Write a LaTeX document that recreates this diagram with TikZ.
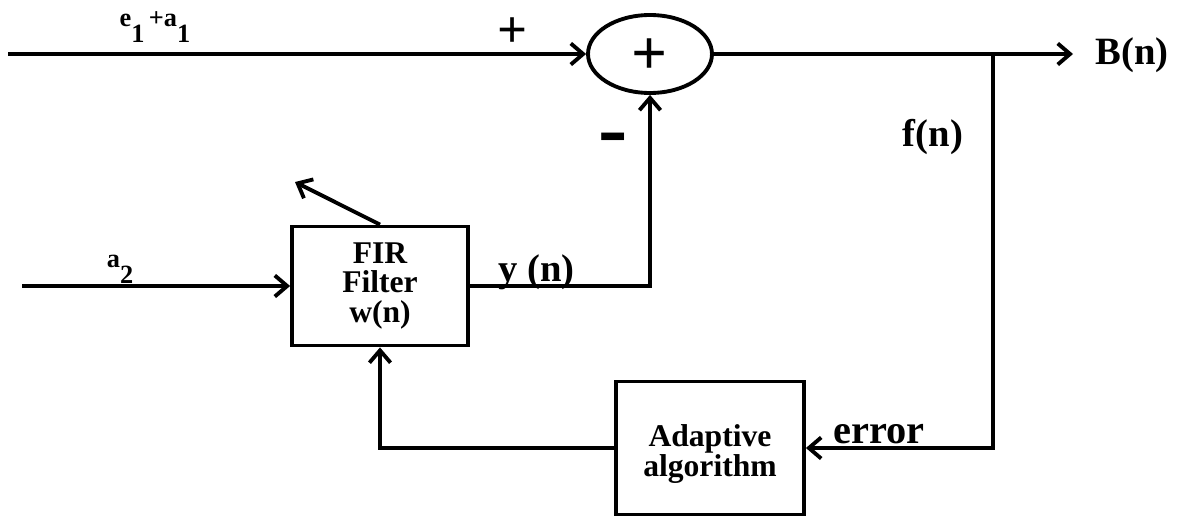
\documentclass[tikz,border=0pt]{standalone}
\usepackage{fontspec}
\setmainfont{Liberation Serif}
\usepackage{tikz}
\usetikzlibrary{positioning, shapes.geometric, arrows.meta}

\begin{document}
\begin{tikzpicture}[x=0.02cm, y=-0.02cm,
    sig/.style={line width=2.2pt, -{Straight Barb[length=7pt, width=12pt, line width=2.2pt]}},
    block/.style={draw, line width=2.2pt, rectangle, align=center, inner sep=0pt, font=\bfseries\fontsize{18}{17}\selectfont},
    sumnode/.style={draw, line width=2.2pt, ellipse, inner sep=0pt, minimum width=2.48cm, minimum height=1.56cm, font=\bfseries\fontsize{36}{36}\selectfont},
    lbl/.style={font=\bfseries\fontsize{22}{24}\selectfont, inner sep=0pt},
    small/.style={font=\bfseries\fontsize{15}{17}\selectfont, inner sep=0pt}]
    \useasboundingbox (0,0) rectangle (1180,517);

    % blocks
    \node (sum) [sumnode] at (650,54) {\smash{\raisebox{-0.32em}{+}}};
    \node (fir) [block, minimum width=3.52cm, minimum height=2.38cm] at (380,286) {FIR\\Filter\\w(n)};
    \node (adapt) [block, minimum width=3.76cm, minimum height=2.66cm] at (710,448) {\rule{0pt}{19pt}Adaptive\\algorithm};

    % free ends
    \coordinate (in1) at (8,54);
    \coordinate (in2) at (22,286);
    \coordinate (out) at (1073,54);
    \coordinate (tap) at (993,54);
    \coordinate (tune) at (295,182);

    % connectors
    \draw [sig] (in1) -- (sum.west);
    \draw [sig] (in2) -- (fir.west);
    \draw [sig] (fir.east) -| (sum.south);
    \draw [sig] (sum.east) -- (out);
    \draw [sig] (tap) |- (adapt.east);
    \draw [sig] (adapt.west) -| (fir.south);
    \draw [sig] (fir.north) -- (tune);

    % labels
    \node (lplus) [lbl, font=\bfseries\fontsize{30}{30}\selectfont] at (513,33) {+};
    \node (lminus) [lbl, font=\bfseries\fontsize{50}{50}\selectfont] at (613,145) {-};
    \node (lin1) [small] at (155,27) {e\raisebox{-1.3ex}{1}\,+a\raisebox{-1.3ex}{1}};
    \node (lin2) [small] at (120,269) {a\raisebox{-1.3ex}{2}};
    \node (lyn) [lbl, anchor=base west] at (498,281) {y (n)};
    \node (lfn) [lbl] at (933,137) {f(n)};
    \node (lerr) [lbl, font=\bfseries\fontsize{23}{25}\selectfont] at (879,434) {error};
    \node (lout) [lbl] at (1132,55) {B(n)};
\end{tikzpicture}
\end{document}
